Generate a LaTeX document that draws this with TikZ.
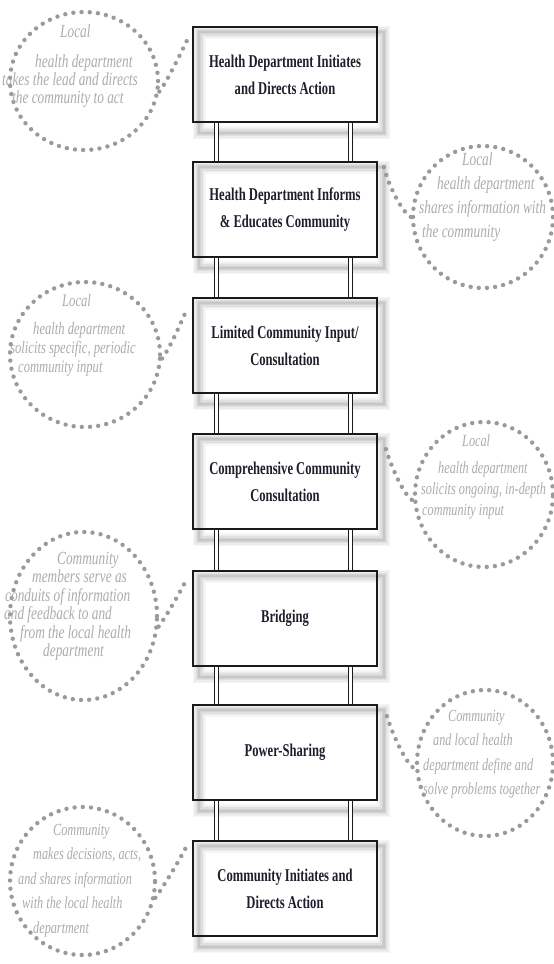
\documentclass[tikz,border=0pt]{standalone}
\usepackage{fontspec}
\usetikzlibrary{shapes.geometric,backgrounds,calc}
\newfontfamily\boxfont{Liberation Serif}[FakeStretch=0.7]
\newfontfamily\elfont{Liberation Serif}[FakeStretch=0.72]
\definecolor{boxtext}{HTML}{1E1E2C}
\definecolor{frame}{HTML}{1A1A1A}
\definecolor{dotgray}{HTML}{9A9A9A}
\definecolor{elgray}{HTML}{ABABAB}
\begin{document}
\begin{tikzpicture}[x=1pt,y=-1pt,
  stepbox/.style={draw=frame, line width=1.7pt, minimum width=184pt, minimum height=95pt,
    inner sep=0pt, align=center, text=boxtext, font=\boxfont\bfseries\fontsize{18}{27}\selectfont},
  dotline/.style={draw=dotgray, line width=4.4pt, line cap=round, dash pattern=on 0pt off 8.2pt},
  bubble/.style={ellipse, inner sep=0pt, dotline},
  bar/.style={draw=frame, line width=1.2pt, double=white, double distance=2.8pt},
  eltext/.style={anchor=north west, inner sep=0pt, align=left, text=elgray},
  elfnt/.style 2 args={font=\elfont\itshape\fontsize{#1}{#2}\selectfont}
]
\useasboundingbox (0,0) rectangle (554,964);

% boxes
\node[stepbox] (b1) at (285,74.5) {Health Department Initiates\\and Directs Action};
\node[stepbox] (b2) at (285,209.5) {Health Department Informs\\\& Educates Community};
\node[stepbox] (b3) at (285,345.5) {Limited Community Input/\\Consultation};
\node[stepbox] (b4) at (285,481.5) {Comprehensive Community\\Consultation};
\node[stepbox] (b5) at (285,618.5) {Bridging};
\node[stepbox] (b6) at (285,752.5) {Power-Sharing};
\node[stepbox] (b7) at (285,888.5) {Community Initiates and\\Directs Action};

% shadows and bars
\begin{scope}[on background layer]
  \foreach \b in {b1,b2,b3,b4,b5,b6,b7} {
    \foreach \w/\o in {13/0.035,10/0.04,7/0.05,4/0.06,1.5/0.06}
      \draw[black, opacity=\o, line width=\w pt]
        ([shift={(7,6)}]\b.north west) rectangle ([shift={(6,10)}]\b.south east);
  }
  \foreach \a/\c in {b1/b2,b2/b3,b3/b4,b4/b5,b5/b6,b6/b7} {
    \draw[bar] ([xshift=24pt]\a.south west) -- ([xshift=24pt]\c.north west);
    \draw[bar] ([xshift=-27pt]\a.south east) -- ([xshift=-27pt]\c.north east);
  }
\end{scope}

% bubbles
\node[bubble, minimum width=148pt, minimum height=138pt] (l1) at (84,81) {};
\node[bubble, minimum width=150pt, minimum height=145pt] (l2) at (85,354.5) {};
\node[bubble, minimum width=147pt, minimum height=168pt] (l3) at (83.5,616) {};
\node[bubble, minimum width=145pt, minimum height=148pt] (l4) at (82.5,881) {};
\node[bubble, minimum width=140pt, minimum height=142pt] (r1) at (483,217) {};
\node[bubble, minimum width=138pt, minimum height=145pt] (r2) at (484,494.5) {};
\node[bubble, minimum width=136pt, minimum height=146pt] (r3) at (485,763) {};

% tails
\draw[dotline] (l1.-8) .. controls +(10,-14) and +(-6,12) .. ([shift={(-4,12)}]b1.north west);
\draw[dotline] (l2.-3) .. controls +(10,-14) and +(-6,12) .. ([shift={(-5,12)}]b3.north west);
\draw[dotline] (l3.-8) .. controls +(10,-14) and +(-6,12) .. ([shift={(-5,8)}]b5.north west);
\draw[dotline] (l4.-13) .. controls +(10,-14) and +(-6,12) .. ([shift={(-5,5)}]b7.north west);
\draw[dotline] ([shift={(6,6)}]b2.north east) .. controls +(4,16) and +(-10,-6) .. (r1.west);
\draw[dotline] ([shift={(8,16)}]b4.north east) .. controls +(5,16) and +(-10,-6) .. (r2.185);
\draw[dotline] ([shift={(9,12)}]b6.north east) .. controls +(5,16) and +(-10,-6) .. (r3.185);

% bubble texts
\node[eltext, elfnt={18.5}{18}] (t1) at (2,24) {\hspace*{58pt}Local\\[12pt]\hspace*{33pt}health department\\takes the lead and directs\\\hspace*{10pt}the community to act};
\node[eltext, elfnt={17.5}{19}] (t2) at (10,294) {\hspace*{52pt}Local\\[9pt]\hspace*{23pt}health department\\solicits specific, periodic\\\hspace*{8pt}community input};
\node[eltext, elfnt={18.5}{18.4}] (t3) at (4,552) {\hspace*{53pt}Community\\\hspace*{28pt}members serve as\\\hspace*{1pt}conduits of information\\and feedback to and\\\hspace*{16pt}from the local health\\\hspace*{39pt}department};
\node[eltext, elfnt={17}{24.5}] (t4) at (18,824) {\hspace*{35pt}Community\\\hspace*{15pt}makes decisions, acts,\\and shares information\\\hspace*{4pt}with the local health\\\hspace*{15pt}department};
\node[eltext, elfnt={18.5}{24}] (t5) at (419,152) {\hspace*{43pt}Local\\\hspace*{18pt}health department\\shares information with\\\hspace*{3pt}the community};
\node[eltext, elfnt={17}{21}] (t6) at (421,434) {\hspace*{41pt}Local\\[6pt]\hspace*{17pt}health department\\solicits ongoing, in-depth\\\hspace*{1pt}community input};
\node[eltext, elfnt={17}{24.5}] (t7) at (423,710) {\hspace*{25pt}Community\\\hspace*{10pt}and local health\\department define and\\solve problems together};
\end{tikzpicture}
\end{document}
